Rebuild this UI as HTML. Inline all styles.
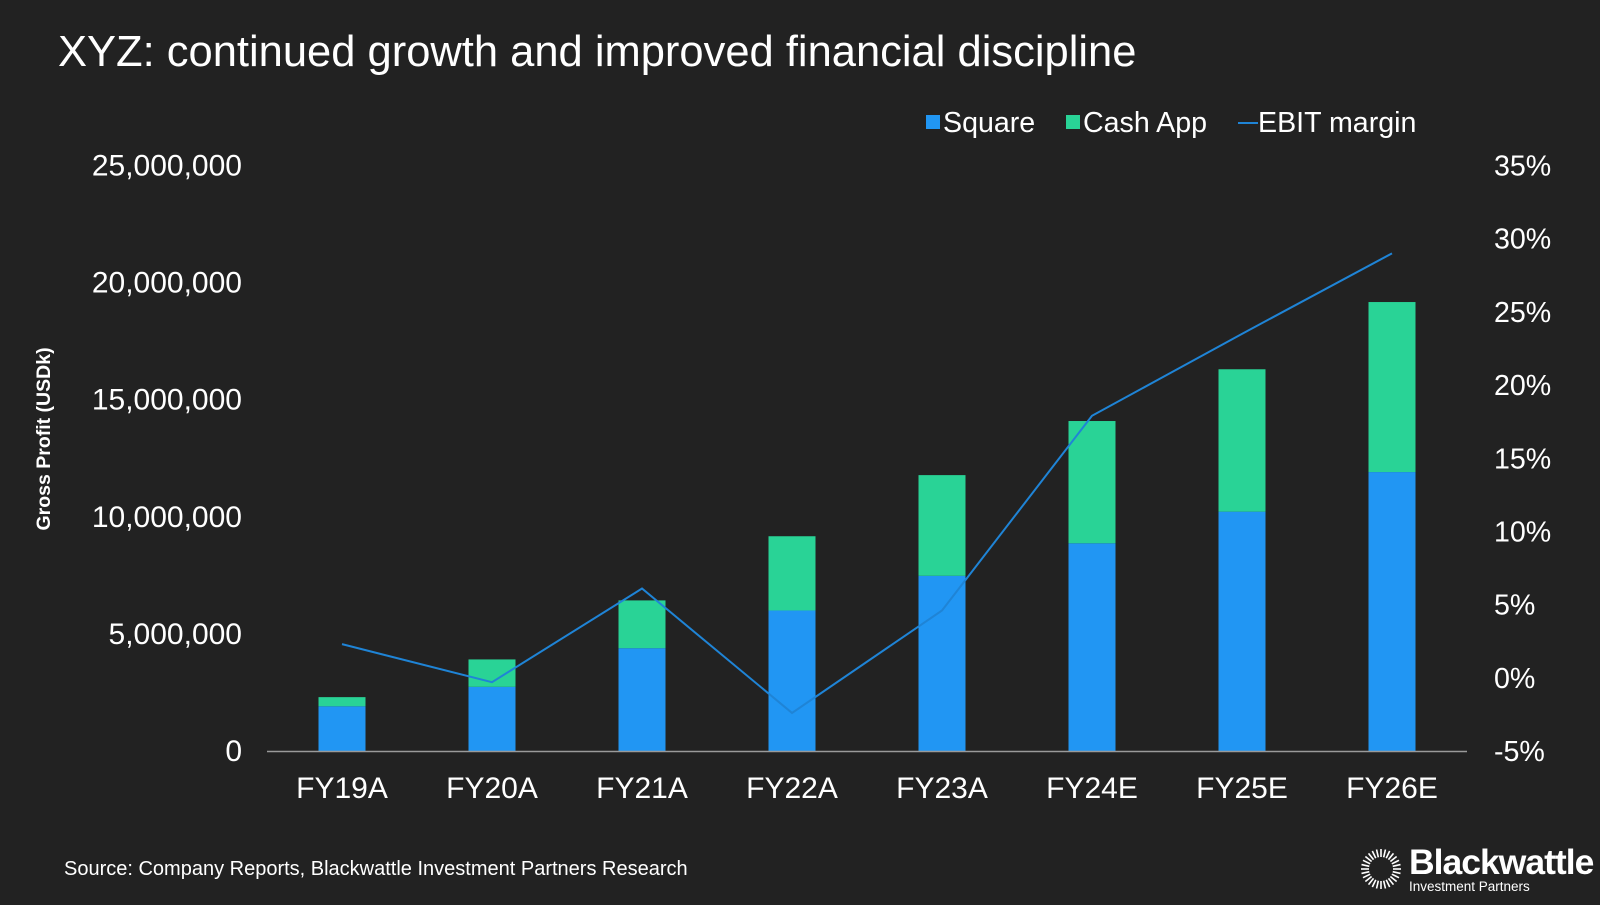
<!DOCTYPE html>
<html><head><meta charset="utf-8"><style>
body{margin:0;background:#222222;}
svg text{font-family:"Liberation Sans",Arial,sans-serif;fill:#fff;}
</style></head><body>
<svg id="chart" width="1600" height="900" viewBox="0 0 1600 900" xmlns="http://www.w3.org/2000/svg">
<rect width="1600" height="900" fill="#222222"/>
<text x="58" y="66" font-size="43.5">XYZ: continued growth and improved financial discipline</text>
<g>
<g><rect x="926" y="115" width="14" height="14" fill="#2196F3"/><text x="943" y="132" font-size="28.6">Square</text></g>
<g><rect x="1066" y="115" width="14" height="14" fill="#29D396"/><text x="1083" y="132" font-size="28.6">Cash App</text></g>
<g><line x1="1238" y1="123" x2="1258" y2="123" stroke="#1F84D6" stroke-width="2"/><text x="1258" y="132" font-size="28.6">EBIT margin</text></g>
</g>
<text transform="translate(50,439) rotate(-90)" text-anchor="middle" font-size="19.5" font-weight="bold">Gross Profit (USDk)</text>
<g id="left-axis"></g>
<g id="right-axis"></g>
<g id="bars"></g>
<g id="xlabels"></g>
<line x1="267" y1="751.5" x2="1467" y2="751.5" stroke="#9a9a9a" stroke-width="1.5"/>
<path id="ebit-line" fill="none" stroke="#1F84D6" stroke-width="2"/>
<text x="64" y="875" font-size="20">Source: Company Reports, Blackwattle Investment Partners Research</text>
<g>
<g id="logo-ring"></g>
<text x="1409" y="874" font-size="35.5" font-weight="bold" letter-spacing="-1">Blackwattle</text>
<text x="1409" y="891" font-size="13.5">Investment Partners</text>
</g>
</svg>
<script>
const categories=["FY19A","FY20A","FY21A","FY22A","FY23A","FY24E","FY25E","FY26E"];
const squareValues=[1910000,2740000,4390000,6000000,7480000,8870000,10220000,11910000];
const cashAppValues=[390000,1170000,2040000,3170000,4300000,5220000,6080000,7260000];
const ebitMargin=[2.3,-0.3,6.1,-2.4,4.6,17.9,23.5,29.0];
const leftTicks=[0,5000000,10000000,15000000,20000000,25000000];
const rightTicks=[-5,0,5,10,15,20,25,30,35];
const NS="http://www.w3.org/2000/svg";
const x0=267,catW=150,barW=47,yBot=751,yTop=165.5;
const yL=v=>yBot-(v/25000000)*(yBot-yTop);
const yR=v=>yBot-((v+5)/40)*(yBot-yTop);
const xC=i=>x0+catW*(i+0.5);
function mk(tag,attrs,parent){const e=document.createElementNS(NS,tag);for(const k in attrs)e.setAttribute(k,attrs[k]);parent.appendChild(e);return e;}
const la=document.getElementById('left-axis');
leftTicks.forEach(t=>{const e=mk('text',{x:242,y:yL(t)+10,'text-anchor':'end','font-size':30},la);e.textContent=t.toLocaleString('en-US');

});
const ra=document.getElementById('right-axis');
rightTicks.forEach(t=>{const e=mk('text',{x:1494,y:yR(t)+10,'font-size':28.6},ra);e.textContent=t+'%';

});
const bars=document.getElementById('bars'),xl=document.getElementById('xlabels');
categories.forEach((c,i)=>{
const s=squareValues[i],ca=cashAppValues[i];
const r1=mk('rect',{x:xC(i)-barW/2,y:yL(s),width:barW,height:yBot-yL(s),fill:'#2196F3'},bars);


const r2=mk('rect',{x:xC(i)-barW/2,y:yL(s+ca),width:barW,height:yL(s)-yL(s+ca),fill:'#29D396'},bars);


const t=mk('text',{x:xC(i),y:798,'text-anchor':'middle','font-size':30},xl);t.textContent=c;


});
document.getElementById('ebit-line').setAttribute('d',ebitMargin.map((v,i)=>(i?'L':'M')+xC(i)+','+yR(v)).join(' '));
const ring=document.getElementById('logo-ring');
for(let k=0;k<28;k++){const a=k/28*2*Math.PI,cx=1381,cy=869;
mk('line',{x1:cx+12*Math.cos(a),y1:cy+12*Math.sin(a),x2:cx+20*Math.cos(a),y2:cy+20*Math.sin(a),stroke:'#fff','stroke-width':1.6},ring);}
</script>
</body></html>
